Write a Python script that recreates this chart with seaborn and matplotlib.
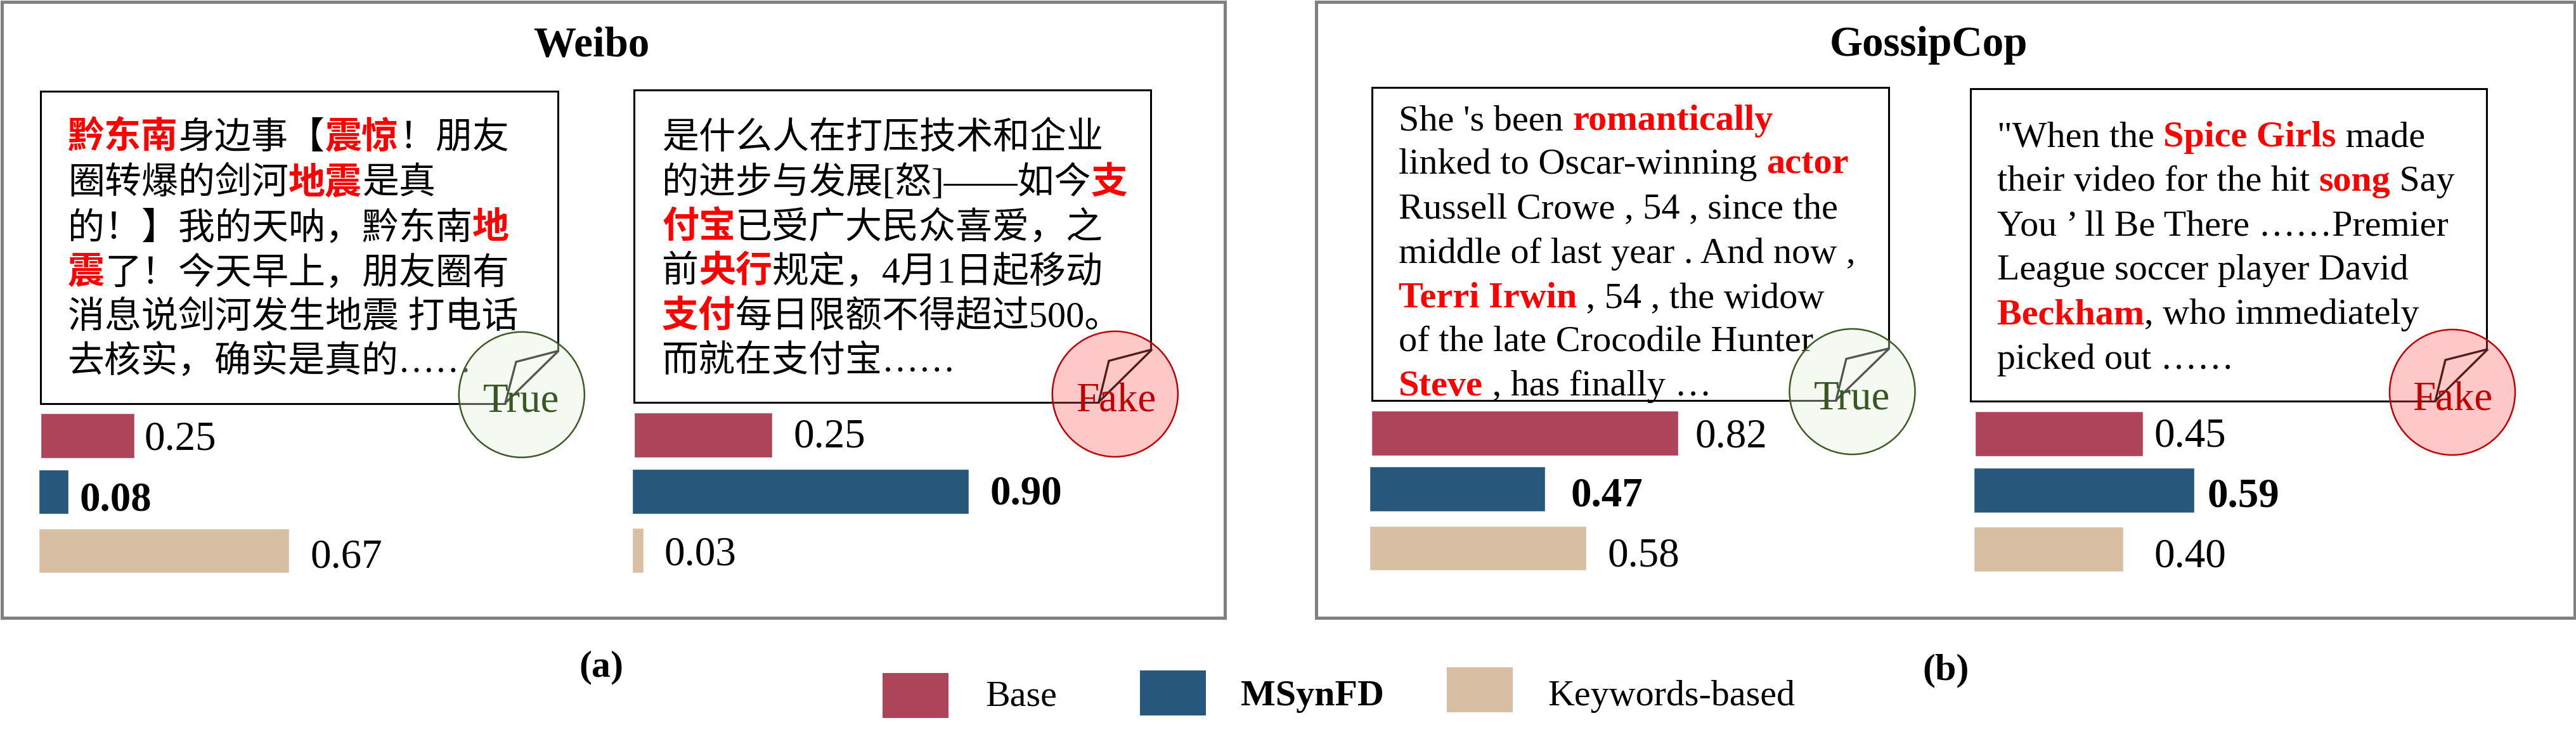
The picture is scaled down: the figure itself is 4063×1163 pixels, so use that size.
import matplotlib
matplotlib.use("Agg")
import matplotlib.pyplot as plt
from matplotlib.patches import Circle, Rectangle, Polygon
import pandas as pd
import seaborn as sns

W, H = 4063, 1163
sns.set_theme(style="white")
SERIF = "Liberation Serif"
BODY = [SERIF, "Noto Sans CJK SC", "DejaVu Sans"]
plt.rcParams["font.family"] = BODY
plt.rcParams["text.color"] = "black"

# ---------- data ----------
methods = ["Base", "MSynFD", "Keywords-based"]
weibo_true = [0.25, 0.08, 0.67]
weibo_fake = [0.25, 0.90, 0.03]
weibo_fake_drawn = [0.37, 0.90, 0.03]   # the Base bar is drawn longer than its label
gossip_true = [0.82, 0.47, 0.58]
gossip_fake = [0.45, 0.59, 0.40]
titles = ["Weibo", "GossipCop"]
captions = ["(a)", "(b)"]

R, N = "r", "n"
weibo_true_text = [
    [("黔东南", R), ("身边事【", N), ("震惊", R), ("！朋友", N)],
    [("圈转爆的剑河", N), ("地震", R), ("是真", N)],
    [("的！】我的天呐，黔东南", N), ("地", R)],
    [("震", R), ("了！今天早上，朋友圈有", N)],
    [("消息说剑河发生地震 打电话", N)],
    [("去核实，确实是真的……", N)],
]
weibo_fake_text = [
    [("是什么人在打压技术和企业", N)],
    [("的进步与发展[怒]——如今", N), ("支", R)],
    [("付宝", R), ("已受广大民众喜爱，之", N)],
    [("前", N), ("央行", R), ("规定，4月1日起移动", N)],
    [("支付", R), ("每日限额不得超过500。", N)],
    [("而就在支付宝……", N)],
]
gossip_true_text = [
    [("She 's been ", N), ("romantically", R)],
    [("linked to Oscar-winning ", N), ("actor", R)],
    [("Russell Crowe , 54 , since the", N)],
    [("middle of last year . And now ,", N)],
    [("Terri Irwin", R), (" , 54 , the widow", N)],
    [("of the late Crocodile Hunter", N)],
    [("Steve", R), (" , has finally …", N)],
]
gossip_fake_text = [
    [("\"When the ", N), ("Spice Girls", R), (" made", N)],
    [("their video for the hit ", N), ("song", R), (" Say", N)],
    [("You ’ ll Be There ……Premier", N)],
    [("League soccer player David", N)],
    [("Beckham", R), (", who immediately", N)],
    [("picked out ……", N)],
]

# ---------- style and layout ----------
colors = {"Base": "#AE445A", "MSynFD": "#27587C", "Keywords-based": "#D8BEA2"}
PX_PER_UNIT = 590
pt = lambda px: px * 72 / 100

panels = [
    dict(bars=weibo_true, labels=weibo_true, text=weibo_true_text,
         box=(64, 143.5, 880), bottom=636.5, text_x=107, base=[234, 305, 376, 447, 517, 586], size=58,
         fold=[(881, 553.6), (814, 571), (797, 636)], circ=(822.8, 622.8), verdict="True", vx=762, vy=649,
         left=[64, 61, 61], rows=[(652, 723), (741, 811), (834, 904)],
         lab=[(227, 710), (125, 805), (490, 895)]),
    dict(bars=weibo_fake_drawn, labels=weibo_fake, text=weibo_fake_text,
         box=(999.7, 142, 1815), bottom=635, text_x=1044, base=[234, 305, 375, 445, 516, 586], size=58,
         fold=[(1817, 551.5), (1749, 569.4), (1733, 634.4)], circ=(1758.8, 621.8), verdict="Fake", vx=1697.5, vy=650,
         left=[999.7, 997, 997], rows=[(651, 722), (740, 811), (833, 904)],
         lab=[(1251, 706), (1561, 795), (1048, 891)]),
    dict(bars=gossip_true, labels=gossip_true, text=gossip_true_text,
         box=(2163.5, 138.4, 2978.6), bottom=632, text_x=2206,
         base=[205, 274, 344.5, 414.6, 485, 554, 624], size=58.3,
         fold=[(2980, 549.7), (2912, 566.3), (2896, 631.4)], circ=(2921.5, 618), verdict="True", vx=2861, vy=646,
         left=[2163, 2160, 2160], rows=[(648, 719), (736, 807), (830, 900)],
         lab=[(2673, 706), (2477, 798.5), (2536, 894)]),
    dict(bars=gossip_fake, labels=gossip_fake, text=gossip_fake_text,
         box=(3107.5, 140, 3922), bottom=633, text_x=3150, base=[231, 301, 371, 441, 511, 582], size=58,
         fold=[(3924, 551), (3857, 568), (3841, 633)], circ=(3868, 619), verdict="Fake", vx=3805, vy=648,
         left=[3114.8, 3112.8, 3112.8], rows=[(649, 720), (738, 808.5), (831, 902)],
         lab=[(3397, 704.6), (3482, 800), (3398, 894.6)]),
]
verdict_style = {
    "True": dict(face=(0.886, 0.941, 0.851, 0.37), edge="#3D5A25", text="#385723"),
    "Fake": dict(face=(1.0, 0.345, 0.345, 0.33), edge="#C00000", text="#C00000"),
}

fig = plt.figure(figsize=(W / 100, H / 100), dpi=100, facecolor="white")
over = fig.add_axes([0, 0, 1, 1], zorder=5)
over.set_xlim(0, W)
over.set_ylim(H, 0)
over.axis("off")
over.patch.set_alpha(0)
renderer = fig.canvas.get_renderer()


def advance(s, **kw):
    a = over.text(0, 0, s + "|", **kw)
    b = over.text(0, 0, "|", **kw)
    w = a.get_window_extent(renderer).width - b.get_window_extent(renderer).width
    a.remove()
    b.remove()
    return w


def draw_lines(lines, x0, baselines, size):
    for runs, y in zip(lines, baselines):
        x = x0
        for s, kind in runs:
            kw = dict(family=BODY, fontsize=pt(size),
                      color="#FF0000" if kind == R else "black",
                      fontweight="bold" if kind == R else "normal")
            over.text(x, y, s, va="baseline", ha="left", zorder=2, **kw)
            x += advance(s, **kw)


for p in panels:
    # bars: one small seaborn axes per bar, scaled PX_PER_UNIT pixels per unit
    for i, m in enumerate(methods):
        x0 = p["left"][i]
        y0, y1 = p["rows"][i]
        ax = fig.add_axes([x0 / W, 1 - y1 / H, PX_PER_UNIT / W, (y1 - y0) / H], zorder=1)
        df = pd.DataFrame({"method": [m], "score": [p["bars"][i]]})
        sns.barplot(data=df, x="score", y="method", color=colors[m], width=1.0,
                    saturation=1, ax=ax, orient="h")
        ax.set_xlim(0, 1)
        ax.set_ylim(0.5, -0.5)
        ax.axis("off")
        lx, ly = p["lab"][i]
        over.text(lx, ly, f"{p['labels'][i]:.2f}", family=SERIF, fontsize=pt(65), color="black",
                  fontweight="bold" if m == "MSynFD" else "normal", va="baseline", ha="left")
    # text
    draw_lines(p["text"], p["text_x"], p["base"], p["size"])
    # speech box with folded corner
    bx0, by0, bx1 = p["box"]
    f0, f1, f2 = p["fold"]
    over.plot([f2[0], bx0, bx0, bx1, bx1], [p["bottom"], p["bottom"], by0, by0, f0[1]],
              color="black", lw=2.2, zorder=3, solid_joinstyle="miter")
    over.add_patch(Polygon([f0, f1, f2], closed=True, fill=False, edgecolor="black", lw=2.4, zorder=3))
    st = verdict_style[p["verdict"]]
    over.add_patch(Circle(p["circ"], 99, facecolor=st["face"], edgecolor=st["edge"], lw=1.8, zorder=4))
    over.text(p["vx"], p["vy"], p["verdict"], family=SERIF, fontsize=pt(65), color=st["text"],
              va="baseline", ha="left", zorder=5)

# outer frames
for (x0, x1) in [(2.5, 1931.5), (2075.5, 4060.5)]:
    over.add_patch(Rectangle((x0, 2.5), x1 - x0, 972, fill=False, edgecolor="#808080", lw=3.6, zorder=6,
                             clip_on=False))

# titles and captions
for t, x in zip(titles, [842, 2886]):
    over.text(x, 88, t, family=SERIF, fontsize=pt(67), fontweight="bold", va="baseline", ha="left", color="black")
for c, x, y in zip(captions, [913, 3032], [1067, 1072]):
    over.text(x, y, c, family=SERIF, fontsize=pt(60), fontweight="bold", va="baseline", ha="left", color="black")

# legend
keys = [(1392, 1062), (1798, 1058), (2282, 1053)]
key_w, key_h = 104, 71
text_pos = [1554, 1957, 2441]
for m, (kx, ky), tx in zip(methods, keys, text_pos):
    over.add_patch(Rectangle((kx, ky), key_w, key_h, facecolor=colors[m], edgecolor="none"))
    over.text(tx, 1113, m, family=SERIF, fontsize=pt(58), va="baseline", ha="left", color="black",
              fontweight="bold" if m == "MSynFD" else "normal")

fig.savefig("out.png", dpi=100, facecolor="white")
